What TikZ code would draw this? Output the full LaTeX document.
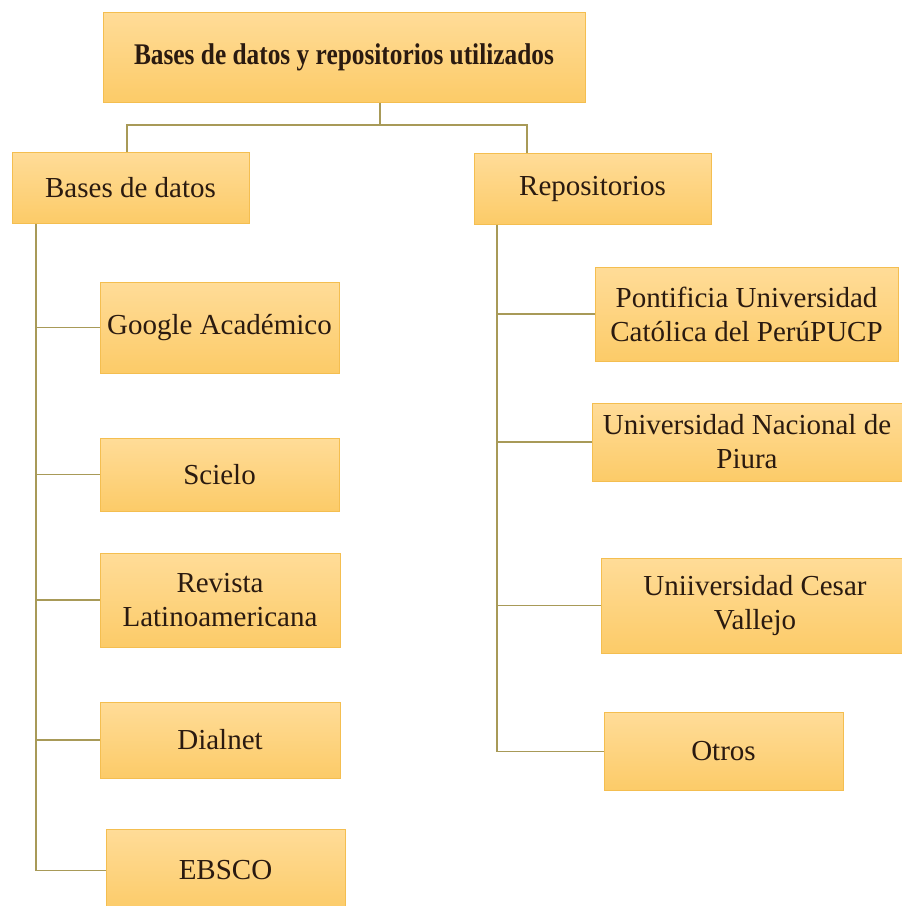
\documentclass[tikz,border=0pt]{standalone}
\usepackage{fontspec}
\setmainfont{Liberation Serif}
\usepackage{xcolor}
\usetikzlibrary{positioning,calc}
\definecolor{boxtop}{HTML}{FFDC98}
\definecolor{boxbot}{HTML}{FCCB68}
\definecolor{boxline}{HTML}{F4BE50}
\definecolor{linkcol}{HTML}{A89A58}
\definecolor{txtcol}{HTML}{2A1A10}

\tikzset{
  box/.style={draw=boxline, line width=1pt, top color=boxtop, bottom color=boxbot,
    text=txtcol, align=center, inner sep=2pt, font=\fontsize{29}{34}\selectfont},
  link/.style={draw=linkcol, line width=1.6pt}
}

\begin{document}
\begin{tikzpicture}[x=1pt,y=-1pt]
    \useasboundingbox (0,0) rectangle (902,906);

    % Title
    \node[box, minimum width=482pt, minimum height=90pt,
      font=\bfseries\fontsize{30}{34}\selectfont] (top) at (344,57)
      {\scalebox{0.845}[1]{Bases de datos y repositorios utilizados}};

    % Groups
    \node[box, minimum width=237pt, minimum height=71pt] (bd) at (130.5,187.5) {Bases de datos};
    \node[box, minimum width=237pt, minimum height=71pt] (rep) at (592.5,188.5) {Repositorios};

    % Bases de datos
    \node[box, minimum width=239pt, minimum height=91pt] (ga) at (219.5,327.5) {Google Académico};
    \node[box, minimum width=239pt, minimum height=73pt] (sci) at (219.5,474.5) {Scielo};
    \node[box, minimum width=240pt, minimum height=94pt] (rev) at (220,600) {Revista\\Latinoamericana};
    \node[box, minimum width=240pt, minimum height=76pt] (dia) at (220,740) {Dialnet};
    \node[box, minimum width=239pt, minimum height=83pt] (ebs) at (225.5,870.5) {EBSCO};

    % Repositorios
    \node[box, minimum width=303pt, minimum height=94pt] (puc) at (746.5,314) {Pontificia Universidad\\Católica del PerúPUCP};
    \node[box, minimum width=310pt, minimum height=78pt] (piu) at (747,442) {Universidad Nacional de\\Piura};
    \node[box, minimum width=308pt, minimum height=95pt] (ucv) at (755,605.5) {Uniiversidad Cesar\\Vallejo};
    \node[box, minimum width=239pt, minimum height=78pt] (otr) at (723.5,751.5) {Otros};

    % Connectors
    \coordinate (jn) at (380,125);
    \coordinate (lj) at (127,125);
    \coordinate (rj) at (527,125);
    \coordinate (ls) at (36,0);
    \coordinate (rs) at (497,0);

    \draw[link] (top.south -| jn) -- (jn);
    \draw[link] (bd.north -| lj) -- (lj) -- (rj) -- (rep.north -| rj);

    \draw[link] (bd.south -| ls) |- (ebs.west);
    \foreach \n in {ga,sci,rev,dia}
      \draw[link] (\n.west -| ls) -- (\n.west);

    \draw[link] (rep.south -| rs) |- (otr.west);
    \foreach \n in {puc,piu,ucv}
      \draw[link] (\n.west -| rs) -- (\n.west);

\end{tikzpicture}
\end{document}
